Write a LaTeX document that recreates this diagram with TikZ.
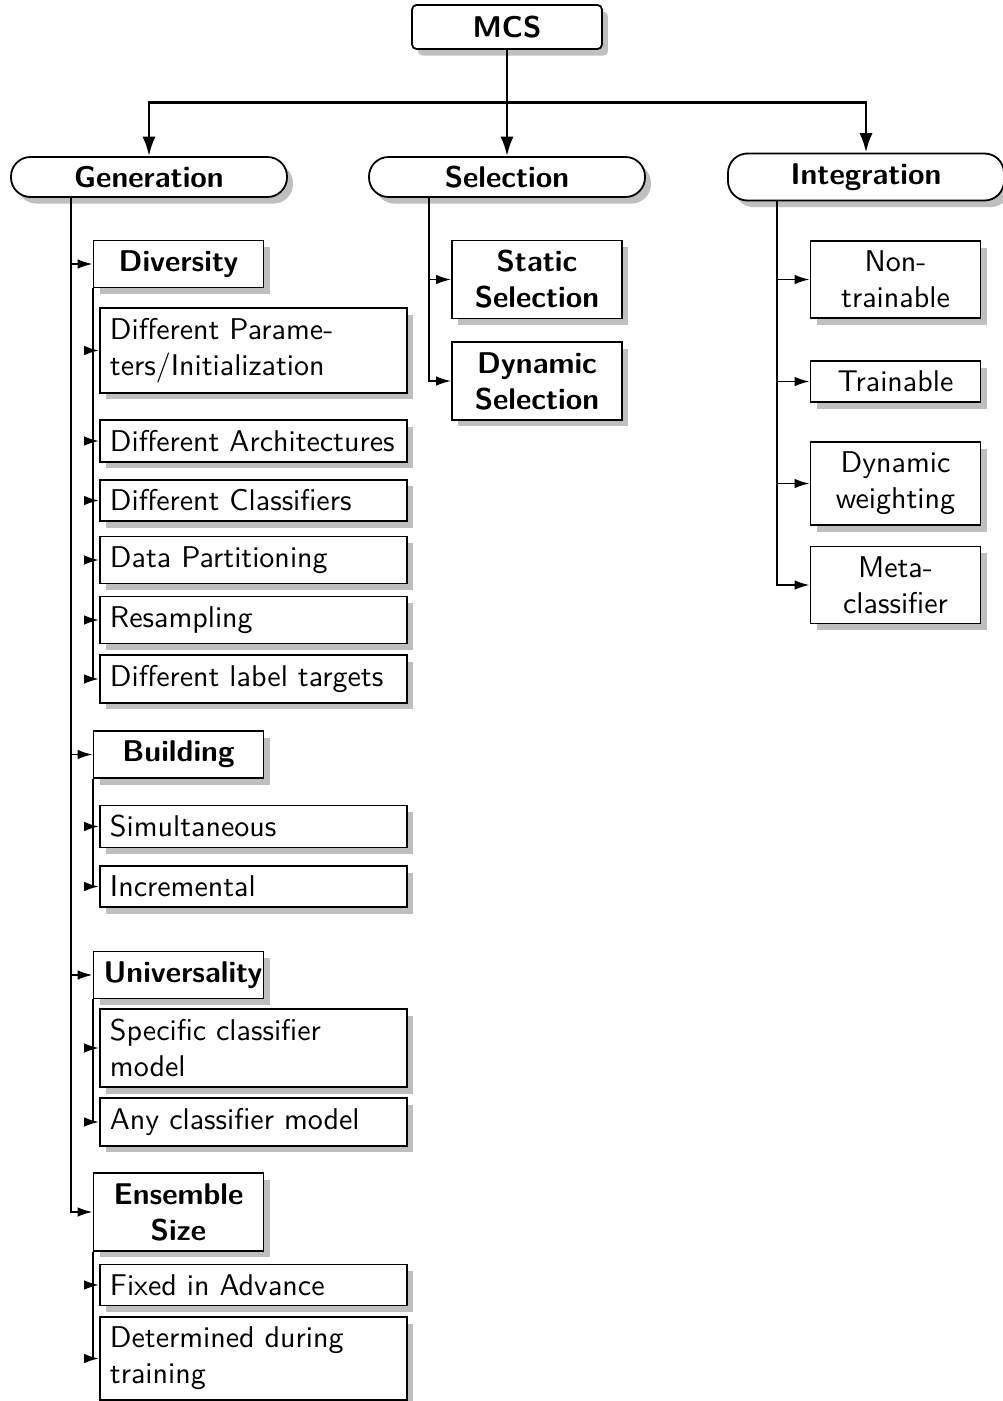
\documentclass[tikz,border=0pt]{standalone}
\usepackage{fontspec}
\usetikzlibrary{shadows,arrows.meta}
\begin{document}
\begin{tikzpicture}[x=0.33333pt,y=-0.33333pt,
  font=\sffamily,
  shd/.style={drop shadow={opacity=1,fill=black!25,shadow xshift=2pt,shadow yshift=-2.2pt}},
  mcsbox/.style={draw,semithick,fill=white,shd,font=\sffamily\bfseries,rounded corners=1.5pt,minimum width=63.3pt,minimum height=14.67pt,inner sep=0pt},
  catbox/.style={draw,semithick,fill=white,shd,font=\sffamily\bfseries,rounded corners=6.5pt,minimum width=92pt,minimum height=13.33pt,inner sep=0pt},
  midbox/.style={draw,semithick,fill=white,shd,text width=50pt,align=center},
  midbold/.style={midbox,font=\sffamily\bfseries},
  leafbox/.style={draw,semithick,fill=white,shd,text width=95.7pt,align=left},
  bigarr/.style={line width=0.95pt,-{Latex[length=6.5pt,width=4.4pt]}},
  arr/.style={line width=0.65pt,-{Latex[length=5pt,width=3.2pt]}}
]
\useasboundingbox (0,0) rectangle (1002,1401);

% top level
\node[mcsbox] (mcs) at (507,27) {MCS};
\node[catbox] (gen) at (149,177) {Generation};
\node[catbox] (sel) at (507,177) {Selection};
\node[catbox,minimum height=15.67pt] (int) at (866,177) {Integration};

\draw[bigarr] (mcs.south) -- (sel.north);
\draw[bigarr] (mcs.south) -- ++(0,53) -| (gen.north);
\draw[bigarr] (mcs.south) -- ++(0,53) -| (int.north);

% Generation
\coordinate (gt) at (71,197);
\node[midbold] (div) at (178.5,264) {Diversity};
\node[midbold] (bld) at (178.5,754.5) {Building};
\node[midbold] (uni) at (178.5,975) {Universality};
\node[midbold] (ens) at (178.5,1212) {Ensemble\\Size};

\node[leafbox] (dp) at (253.5,350.5) {Different Parame-\\ters/Initialization};
\node[leafbox] (da) at (253.5,441) {Different Architectures};
\node[leafbox] (dc) at (253.5,500.5) {Different Classifiers};
\node[leafbox] (dpt) at (253.5,560) {Data Partitioning};
\node[leafbox] (rs) at (253.5,620) {Resampling};
\node[leafbox] (dl) at (253.5,679) {Different label targets};
\node[leafbox] (sim) at (253.5,826.5) {Simultaneous};
\node[leafbox] (inc) at (253.5,886.5) {Incremental};
\node[leafbox] (spec) at (253.5,1048) {Specific classifier\\model};
\node[leafbox] (any) at (253.5,1122) {Any classifier model};
\node[leafbox] (fix) at (253.5,1285) {Fixed in Advance};
\node[leafbox] (det) at (253.5,1358.5) {Determined during\\training};

\foreach \n in {div,bld,uni,ens} \draw[arr] (gt) |- (\n.west);
\foreach \n in {dp,da,dc,dpt,rs,dl} \draw[arr] (div.south west) |- (\n.west);
\foreach \n in {sim,inc} \draw[arr] (bld.south west) |- (\n.west);
\foreach \n in {spec,any} \draw[arr] (uni.south west) |- (\n.west);
\foreach \n in {fix,det} \draw[arr] (ens.south west) |- (\n.west);

% Selection
\coordinate (st) at (429,197);
\node[midbold] (ss) at (537,279.5) {Static\\Selection};
\node[midbold] (ds) at (537,381) {Dynamic\\Selection};
\foreach \n in {ss,ds} \draw[arr] (st) |- (\n.west);

% Integration
\coordinate (it) at (777,200.5);
\node[midbox] (nt) at (895.5,279.5) {Non-\\trainable};
\node[midbox] (tr) at (895.5,381.5) {Trainable};
\node[midbox] (dw) at (895.5,483.5) {Dynamic\\weighting};
\node[midbox] (mc) at (895.5,585) {Meta-\\classifier};
\foreach \n in {nt,tr,dw,mc} \draw[arr] (it) |- (\n.west);
\end{tikzpicture}
\end{document}
